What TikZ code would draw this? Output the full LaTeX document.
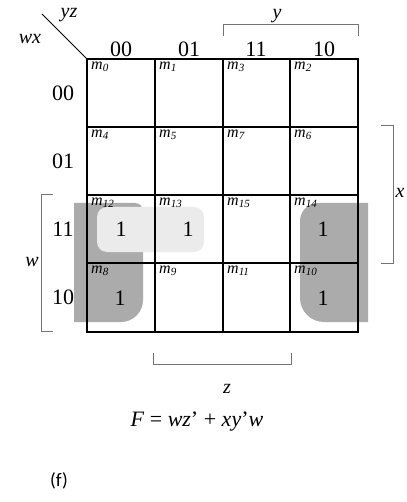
\documentclass[tikz,border=0pt]{standalone}
\usepackage{fontspec}
\setmainfont{Liberation Serif}
\newfontfamily\calib{Carlito}
\begin{document}
\begin{tikzpicture}[x=1pt,y=-1pt,
  lbl/.style={font=\fontsize{22}{22}\selectfont, inner sep=0},
  one/.style={font=\fontsize{22}{22}\selectfont, inner sep=0},
  mt/.style={font=\fontsize{16}{16}\selectfont\itshape, anchor=north west, inner sep=0},
  var/.style={font=\fontsize{20}{20}\selectfont\itshape, inner sep=0},
  brk/.style={draw=black!55, line width=1pt},
  gridline/.style={line width=1.6pt},
  darkfill/.style={fill=black!33},
  lightfill/.style={fill=black!8}]
\useasboundingbox (0,0) rectangle (406,502);
% groupings
\fill[darkfill] (74,203) [rounded corners=8pt] -- (143,203) [rounded corners=22pt] -- (143,322) [sharp corners] -- (74,322) -- cycle;
\fill[darkfill] (368,203) [rounded corners=18pt] -- (300,203) [rounded corners=24pt] -- (300,322) [sharp corners] -- (368,322) -- cycle;
\fill[lightfill, rounded corners=10pt] (97,207) rectangle (204,252);
% grid
\draw[gridline] (87,59) rectangle (358,332);
\foreach \x in {155,223,290} \draw[gridline] (\x,59) -- (\x,332);
\foreach \y in {127,195,263} \draw[gridline] (87,\y) -- (358,\y);
% corner
\coordinate (c0) at (87,59);
\coordinate (c1) at (42,14);
\draw[line width=1pt] (c0) -- (c1);
\node[var] (yz) at (69,15) {yz};
\node[var] (wx) at (30,39) {wx};
% column labels
\foreach \t/\x [count=\i] in {00/121,01/189,11/256,10/324}
  \node[lbl] (col\i) at (\x,49) {\t};
\foreach \t/\y [count=\i] in {00/93,01/161,11/229,10/297}
  \node[lbl] (row\i) at (63,\y) {\t};
% minterms
\foreach \n/\x/\y in {0/87/59,1/155/59,3/223/59,2/290/59,
                      4/87/127,5/155/127,7/223/127,6/290/127,
                      12/87/195,13/155/195,15/223/195,14/290/195,
                      8/87/263,9/155/263,11/223/263,10/290/263}
  \node[mt] (m\n) at (\x+4,\y+3) {m\raisebox{-2pt}{\fontsize{11}{11}\selectfont\n}};
% ones
\node[one] (o12) at (121,229) {1};
\node[one] (o13) at (188,229) {1};
\node[one] (o14) at (323,229) {1};
\node[one] (o8) at (120,298) {1};
\node[one] (o10) at (323,298) {1};
% brackets
\draw[brk] (223,36) -- (223,25) -- (358,25) -- (358,36);
\node[var] (ylab) at (277,16) {y};
\draw[brk] (381,126) -- (393,126) -- (393,263) -- (381,263);
\node[var] (xlab) at (400,193) {x};
\draw[brk] (53,195) -- (41,195) -- (41,331) -- (53,331);
\node[var] (wlab) at (32,262) {w};
\draw[brk] (153,353) -- (153,364) -- (291,364) -- (291,353);
\node[var] (zlab) at (227,389) {z};
% function
\node[font=\fontsize{22}{22}\selectfont, inner sep=0] (F) at (197,422)
  {\textit{F} = \textit{wz}' + \textit{xy}'\textit{w}};
\node[font=\fontsize{19}{19}\selectfont\calib, inner sep=0] (f) at (59,481) {(f)};
\end{tikzpicture}
\end{document}
